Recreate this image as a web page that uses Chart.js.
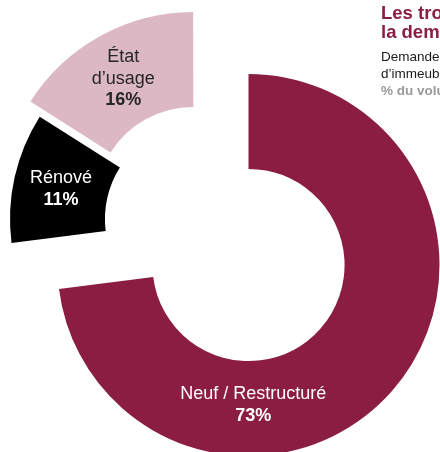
<!DOCTYPE html>
<html>
<head>
<meta charset="utf-8">
<title>Demande placée par état d’immeuble</title>
<style>
  html, body { margin: 0; padding: 0; background: #fff; overflow: hidden; }
  #wrap { position: relative; width: 440px; height: 452px; overflow: hidden; font-family: "Liberation Sans", Arial, sans-serif; }
  #wrap canvas { position: absolute; left: 0; top: 0; }
  .head { position: absolute; white-space: nowrap; }
  #title { left: 381px; top: 3px; font-size: 18.5px; line-height: 19px; font-weight: bold; color: #8b1d43; }
  #subtitle { left: 381px; top: 48px; font-size: 13.5px; line-height: 17px; color: #1a1a1a; }
  #subtitle b { color: #9a9a9a; }
</style>
</head>
<body>
<div id="wrap">
  <canvas id="baseChart" width="440" height="452"></canvas>
  <canvas id="mainChart" width="440" height="452"></canvas>
  <div class="head" id="title">Les trois quarts de<br>la demande pour du neuf</div>
  <div class="head" id="subtitle">Demande placée par état<br>d’immeuble<br><b>% du volume</b></div>
</div>

<script src="https://cdn.jsdelivr.net/npm/chart.js"></script>
<script>
const categories = ['Neuf / Restructuré', 'Rénové', ['État', 'd’usage']];
const shares = [73, 11, 16];
const sliceColors = ['#8b1d43', '#000000', '#dcb8c4'];
const labelColors = ['#ffffff', '#ffffff', '#262626'];

// writes name + bold share inside each visible slice
const sliceLabels = {
  id: 'sliceLabels',
  afterDatasetsDraw(chart, args, opts) {
    const ctx = chart.ctx;
    const meta = chart.getDatasetMeta(0);
    meta.data.forEach((arc, i) => {
      if (!opts.show.includes(i)) return;
      const p = arc.getProps(['x', 'y', 'startAngle', 'endAngle', 'innerRadius', 'outerRadius', 'circumference']);
      const shift = (arc.options.offset || 0) / 4;
      const half = (p.startAngle + p.endAngle) / 2;
      const grow = shift * (1 - Math.sin(Math.min(Math.PI, p.circumference)));
      const cx = p.x + Math.cos(half) * shift;
      const cy = p.y + Math.sin(half) * shift;
      // the big slice has its label near the bottom, small ones on their middle
      const a = p.circumference > Math.PI ? Math.PI / 2 - 0.035 : half;
      const r = (p.innerRadius + p.outerRadius) / 2 + grow - (p.circumference > Math.PI ? 5 : 0);
      const x = cx + Math.cos(a) * r;
      const y = cy + Math.sin(a) * r;
      const lines = [].concat(chart.data.labels[i]).map(t => ({ text: t, bold: false }));
      lines.push({ text: shares[i] + '%', bold: true });
      const lh = 21.5;
      ctx.save();
      ctx.fillStyle = labelColors[i];
      ctx.textAlign = 'center';
      ctx.textBaseline = 'alphabetic';
      lines.forEach((ln, k) => {
        ctx.font = (ln.bold ? 'bold ' : '') + '18px "Liberation Sans", Arial, sans-serif';
        const mid = y + (k - (lines.length - 1) / 2) * lh;
        ctx.fillText(ln.text, x, mid + 6.4);
      });
      ctx.restore();
    });
  }
};

function makeChart(id, shown, padding, offsets) {
  return new Chart(document.getElementById(id), {
    type: 'doughnut',
    data: {
      labels: categories,
      datasets: [{
        data: shares,
        backgroundColor: sliceColors.map((c, i) => shown.includes(i) ? c : 'rgba(0,0,0,0)'),
        borderWidth: 0,
        offset: offsets
      }]
    },
    options: {
      responsive: false,
      animation: false,
      events: [],
      radius: 191,
      cutout: '50.3%',
      layout: { padding: padding },
      plugins: {
        legend: { display: false },
        tooltip: { enabled: false },
        sliceLabels: { show: shown }
      }
    },
    plugins: [sliceLabels]
  });
}

// small slices around the base centre, the big one pulled out towards the lower right
makeChart('baseChart', [1, 2], { left: 0, right: 38, top: 0, bottom: 14 }, [0, 0, 62]);
makeChart('mainChart', [0], { left: 57, right: 0, top: 78, bottom: 0 }, 0);
</script>
</body>
</html>
